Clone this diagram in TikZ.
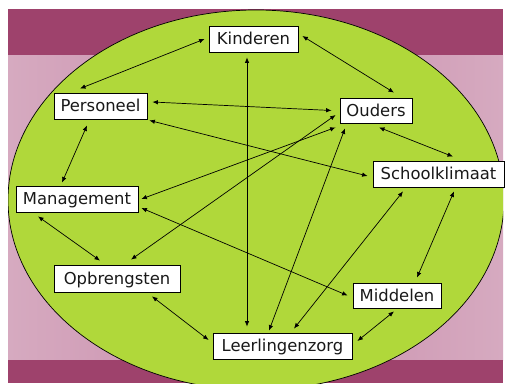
\documentclass[tikz,border=0pt]{standalone}
\usepackage{fontspec}
\setmainfont{DejaVu Sans}
\usetikzlibrary{arrows.meta,calc}
\definecolor{bgdark}{RGB}{158,66,108}
\definecolor{bglight}{RGB}{201,140,171}
\definecolor{bglighter}{RGB}{214,170,192}
\definecolor{ellgreen}{RGB}{176,216,58}
\tikzset{
  box/.style={draw=black, line width=0.8pt, fill=white, inner sep=0pt,
    text height=12pt, text depth=0.3pt, font=\fontsize{16.4}{19}\selectfont, text=black!90},
  link/.style={line width=0.7pt, {Latex[length=5.5pt,width=4.5pt]}-{Latex[length=5.5pt,width=4.5pt]}}
}
\begin{document}
\begin{tikzpicture}[x=1pt,y=-1pt]
\useasboundingbox (0,0) rectangle (505,383);
\fill[white] (0,0) rectangle (505,383);
% background
\shade[left color=bglighter, right color=bglighter, middle color=bglight] (8,55) rectangle (503,360);
\fill[bgdark] (8,9) rectangle (503,55);
\fill[bgdark] (8,360) rectangle (503,383);
% ellipse
\begin{scope}
\clip (8,9) rectangle (503,383);
\draw[fill=ellgreen, line width=0.7pt] (256,200) ellipse [x radius=248, y radius=190];
\end{scope}
% nodes
\node[box, minimum width=89pt, minimum height=26pt] (K) at (253.5,39) {Kinderen};
\node[box, minimum width=93pt, minimum height=26pt] (P) at (100.5,106) {Personeel};
\node[box, minimum width=72pt, minimum height=25pt] (O) at (376,110.5) {Ouders};
\node[box, minimum width=131pt, minimum height=26pt] (S) at (438.5,174) {Schoolklimaat};
\node[box, minimum width=122pt, minimum height=26pt] (M) at (77,199) {Management};
\node[box, minimum width=126pt, minimum height=27pt] (Ob) at (117,278.5) {Opbrengsten};
\node[box, minimum width=88pt, minimum height=25pt] (Mi) at (397,295.5) {Middelen};
\node[box, minimum width=139pt, minimum height=26pt] (L) at (282.5,346) {Leerlingenzorg};
% connectors
\draw[link] ($(K.west)+(-4,0)$) -- ($(P.north)+(-20.5,-4)$);
\draw[link] ($(K.east)+(4,-3)$) -- ($(O.north)+(18,-5)$);
\draw[link] ($(K.south)+(-6.5,5)$) -- ($(L.north)+(-35.5,-6)$);
\draw[link] ($(P.east)+(5,-4)$) -- ($(O.west)+(-8,0)$);
\draw[link] ($(P.south east)+(2,1)$) -- ($(S.west)+(-5,2)$);
\draw[link] ($(P.south)+(-13.5,6)$) -- ($(M.north)+(-15,-3)$);
\draw[link] ($(O.south west)+(-4,4)$) -- ($(M.east)+(3,0)$);
\draw[link] ($(O.west)+(-4,4.5)$) -- ($(Ob.north)+(14,-5)$);
\draw[link] ($(O.south)+(-31,5)$) -- ($(L.north)+(-13.5,-2)$);
\draw[link] ($(O.south)+(3,4)$) -- ($(S.north)+(14.5,-4)$);
\draw[link] ($(M.east)+(3,9)$) -- ($(Mi.west)+(-5,0)$);
\draw[link] ($(M.south)+(-39,4)$) -- ($(Ob.north)+(-17,-4)$);
\draw[link] ($(S.south)+(-35.5,4)$) -- ($(L.north)+(11.5,-4)$);
\draw[link] ($(S.south)+(15.5,4)$) -- ($(Mi.north)+(20,-5)$);
\draw[link] ($(Ob.south)+(35,4)$) -- ($(L.west)+(-4,-6)$);
\draw[link] ($(Mi.south)+(-3,3)$) -- ($(L.east)+(5,-5)$);
\end{tikzpicture}
\end{document}
